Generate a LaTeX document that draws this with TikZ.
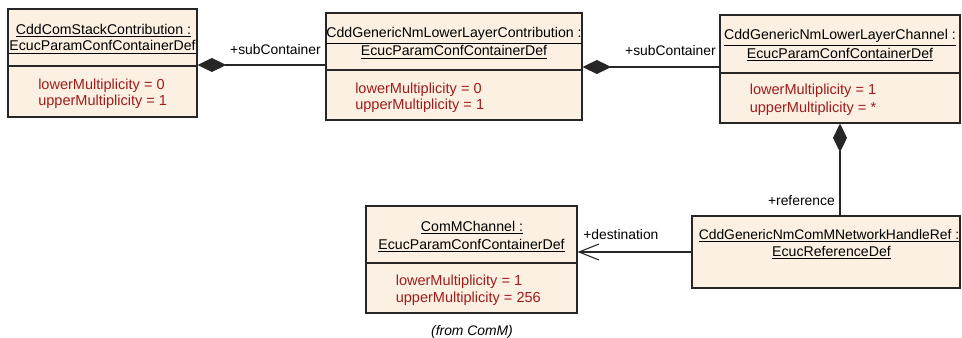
\documentclass[tikz,border=0pt]{standalone}
\usepackage{fontspec}
\setmainfont{Liberation Sans}
\usetikzlibrary{arrows.meta,fit}
\definecolor{boxfill}{RGB}{251,240,225}
\definecolor{attrred}{RGB}{160,28,28}
\begin{document}
\begin{tikzpicture}[x=0.75pt,y=-0.75pt,
  umlbox/.style={draw=black!85, fill=boxfill, line width=0.8pt, inner sep=0pt},
  ttl/.style={inner sep=0pt, anchor=base, font=\fontsize{10.6}{12}\selectfont},
  attrtext/.style={inner sep=0pt, anchor=base west, text=attrred, font=\fontsize{10.9}{12}\selectfont},
  lbl/.style={inner sep=0pt, font=\fontsize{10.4}{12}\selectfont},
  sep/.style={line width=0.8pt, draw=black!85},
  conn/.style={line width=0.8pt, draw=black!85},
  comp/.style={conn, {Diamond[length=21.5pt,width=10.5pt]}-},
  dest/.style={conn, -{Straight Barb[length=15pt,width=12pt,line width=0.8pt]}}]
\useasboundingbox (0,0) rectangle (962,338);

% box coordinates
\coordinate (b1nw) at (8,9);    \coordinate (b1se) at (197,117);
\coordinate (b2nw) at (326,13); \coordinate (b2se) at (582,120);
\coordinate (b3nw) at (720,15); \coordinate (b3se) at (960,123);
\coordinate (b4nw) at (366,206);\coordinate (b4se) at (577,313);
\coordinate (b5nw) at (692,216);\coordinate (b5se) at (960,288);

\node[umlbox, fit=(b1nw)(b1se)] (b1) {};
\node[umlbox, fit=(b2nw)(b2se)] (b2) {};
\node[umlbox, fit=(b3nw)(b3se)] (b3) {};
\node[umlbox, fit=(b4nw)(b4se)] (b4) {};
\node[umlbox, fit=(b5nw)(b5se)] (b5) {};

% separators
\draw[sep] (b1.west |- 0,66) -- (b1.east |- 0,66);
\draw[sep] (b2.west |- 0,70) -- (b2.east |- 0,70);
\draw[sep] (b3.west |- 0,73) -- (b3.east |- 0,73);
\draw[sep] (b4.west |- 0,263) -- (b4.east |- 0,263);

% box 1
\node[ttl] (t1a) at (103.5,34.5) {\underline{CddComStackContribution :}};
\node[ttl] (t1b) at (102.5,51) {\underline{EcucParamConfContainerDef}};
\node[attrtext] (a1a) at (38,89.3) {lowerMultiplicity = 0};
\node[attrtext] (a1b) at (38,105.3) {upperMultiplicity = 1};

% box 2
\node[ttl] (t2a) at (454,38) {\underline{CddGenericNmLowerLayerContribution :}};
\node[ttl] (t2b) at (454,56) {\underline{EcucParamConfContainerDef}};
\node[attrtext] (a2a) at (355,93.3) {lowerMultiplicity = 0};
\node[attrtext] (a2b) at (355,110) {upperMultiplicity = 1};

% box 3
\node[ttl] (t3a) at (840,40) {\underline{CddGenericNmLowerLayerChannel :}};
\node[ttl] (t3b) at (840,58.3) {\underline{EcucParamConfContainerDef}};
\node[attrtext] (a3a) at (749.5,95) {lowerMultiplicity = 1};
\node[attrtext] (a3b) at (749.5,112.3) {upperMultiplicity = *};

% box 4
\node[ttl] (t4a) at (472,231) {\underline{ComMChannel :}};
\node[ttl] (t4b) at (471.5,249) {\underline{EcucParamConfContainerDef}};
\node[attrtext] (a4a) at (395.5,285.7) {lowerMultiplicity = 1};
\node[attrtext] (a4b) at (395.5,302.7) {upperMultiplicity = 256};
\node[lbl, anchor=base] (from) at (472,335) {\itshape (from ComM)};

% box 5
\node[ttl, font=\fontsize{10.4}{12}\selectfont] (t5a) at (829,239.5) {\underline{CddGenericNmComMNetworkHandleRef :}};
\node[ttl] (t5b) at (831.5,256.5) {\underline{EcucReferenceDef}};

% connectors
\draw[comp] (b1.east |- 0,65) -- (b2.west |- 0,65);
\draw[comp] (b2.east |- 0,67) -- (b3.west |- 0,67);
\draw[comp] (b3.south) -- (b5.north -| b3.south);
\draw[dest] (b5.west |- 0,252) -- (b4.east |- 0,252);

% connector labels
\node[lbl, anchor=base east] (l1) at (321,55) {+subContainer};
\node[lbl, anchor=base east] (l2) at (716,56) {+subContainer};
\node[lbl, anchor=base east] (l3) at (835,205) {+reference};
\node[lbl, anchor=base west] (l4) at (583,239.3) {+destination};
\end{tikzpicture}
\end{document}
